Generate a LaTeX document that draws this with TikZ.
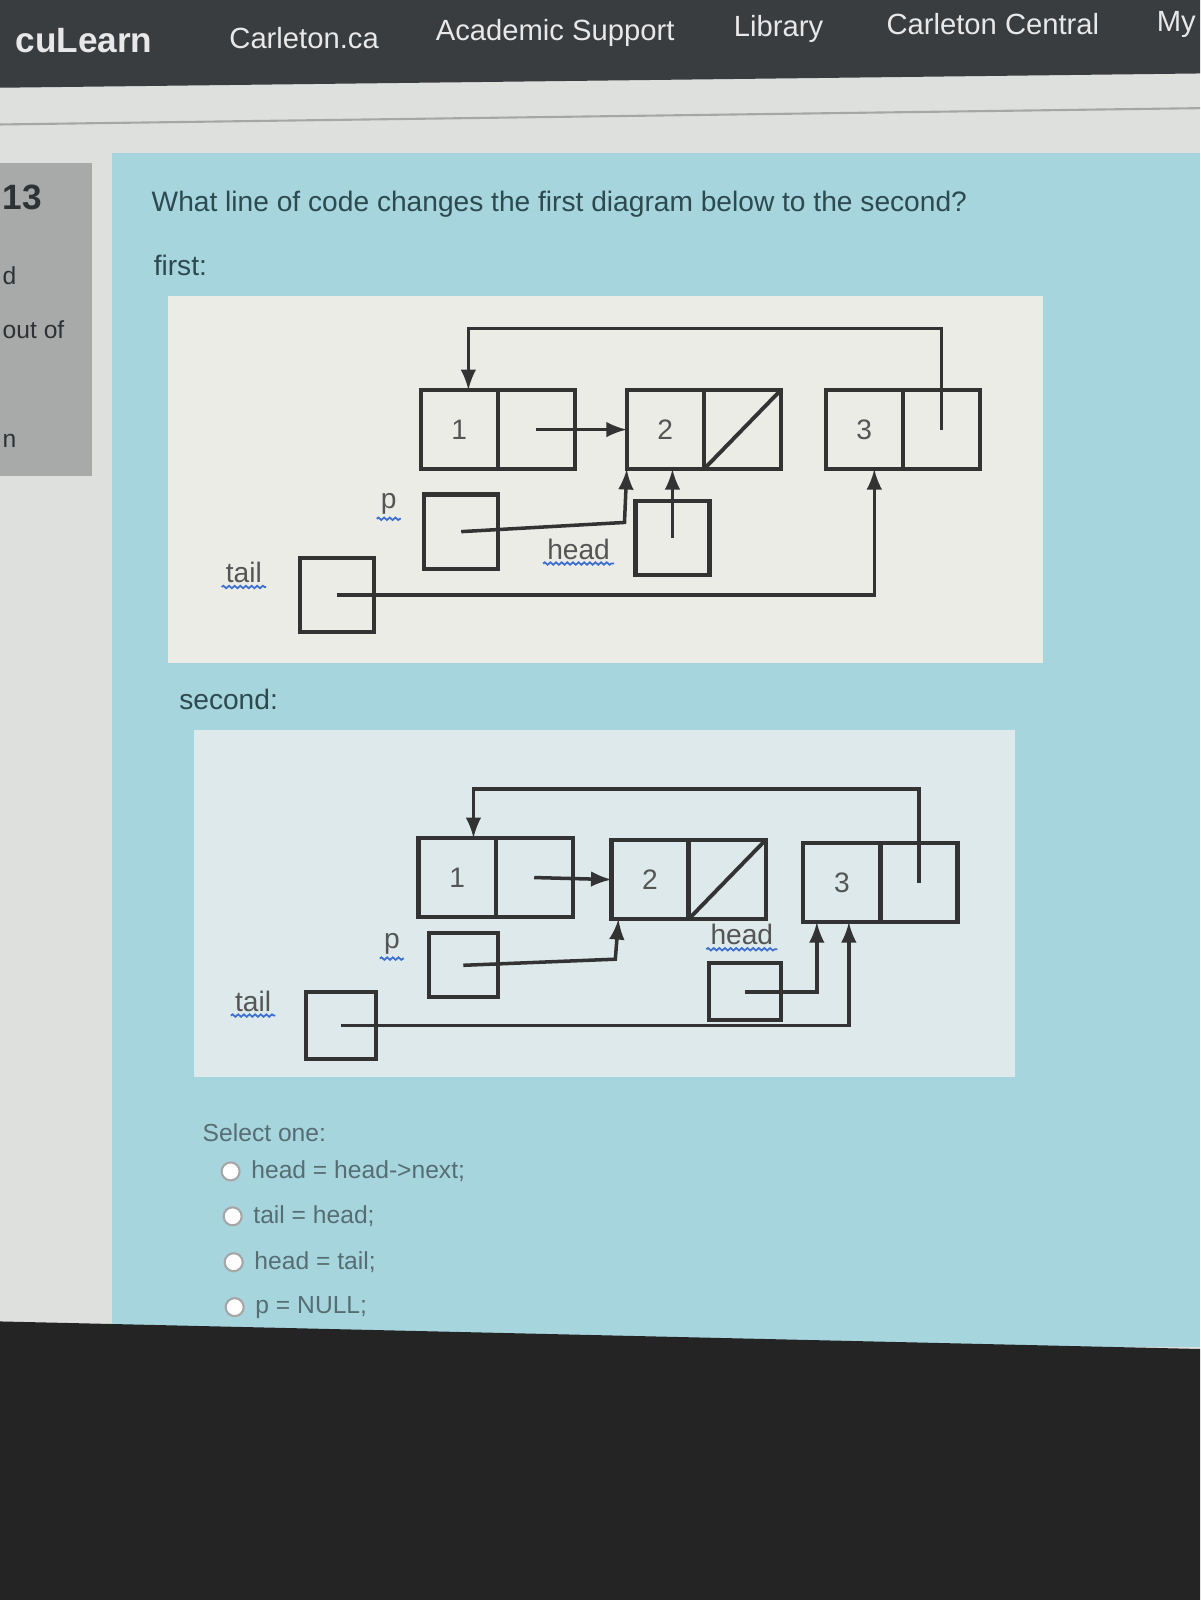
\documentclass[tikz,border=0pt]{standalone}
\usepackage{fontspec}
\setmainfont{Liberation Sans}
\usepackage{tikz}
\usetikzlibrary{arrows,shapes,positioning,decorations.pathmorphing}
\usepackage{xcolor}
\definecolor{navbar}{RGB}{58,61,64}
\definecolor{navtext}{RGB}{232,232,232}
\definecolor{pagebg}{RGB}{222,224,222}
\definecolor{sidegray}{RGB}{168,170,169}
\definecolor{sidetext}{RGB}{46,50,52}
\definecolor{quizblue}{RGB}{166,213,222}
\definecolor{qtext}{RGB}{44,74,80}
\definecolor{diagbg}{RGB}{236,236,231}
\definecolor{diagbgtwo}{RGB}{221,233,234}
\definecolor{lineclr}{RGB}{51,51,51}
\definecolor{labelclr}{RGB}{85,85,85}
\definecolor{squigblue}{RGB}{60,111,208}
\definecolor{bezel}{RGB}{36,36,36}
\tikzstyle{arrow} = [line width=1pt,->,>=latex,color=lineclr]
\tikzstyle{cell} = [rectangle, draw=lineclr, line width=1.2pt, outer sep=0pt, minimum width=0.77cm, minimum height=0.79cm, inner sep=0pt, text=labelclr, font=\fontsize{8}{9}\selectfont]
\tikzstyle{ptrbox} = [rectangle, draw=lineclr, line width=1.2pt, minimum size=0.74cm, inner sep=0pt]
\tikzstyle{varname} = [text=labelclr, inner sep=1pt, font=\fontsize{8}{9}\selectfont]
\tikzstyle{squiggle} = [draw=squigblue, line width=0.5pt, decorate, decoration={snake, amplitude=0.35pt, segment length=1.6pt}]
\tikzstyle{navitem} = [text=navtext, font=\fontsize{8.3}{10}\selectfont]
\tikzstyle{sideitem} = [text=sidetext, anchor=west, inner sep=0pt, font=\fontsize{7}{9}\selectfont]
\tikzstyle{qline} = [text=qtext, anchor=west, inner sep=0pt, font=\fontsize{8}{10}\selectfont]
\tikzstyle{option} = [text=qtext!80, anchor=west, inner sep=0pt, font=\fontsize{7}{9}\selectfont]
\tikzstyle{radio} = [circle, draw=gray!70, fill=white, line width=0.6pt, minimum size=0.18cm, inner sep=0pt]

\begin{document}
\begin{tikzpicture}[x=0.0102cm, y=-0.0102cm]
\useasboundingbox (0,0) rectangle (1176,1568);
% Screen
\fill[pagebg] (0,0) rectangle (1176,1568);
\fill[navbar] (0,0) -- (1176,0) -- (1176,72) -- (0,86) -- cycle;
\draw[gray!70, line width=0.6pt] (0,122) -- (1176,106);
\fill[sidegray] (0,160) rectangle (90,466);
\fill[quizblue] (110,150) rectangle (1176,1320);
\fill[diagbg] (165,290) rectangle (1022,650);
\fill[diagbgtwo] (190,715) rectangle (995,1055);
\fill[bezel] (0,1295) -- (1176,1322) -- (1176,1568) -- (0,1568) -- cycle;

% Menu
\node[navitem, anchor=west, font=\bfseries\fontsize{10}{12}\selectfont] (brand) at (3,40) {cuLearn};
\node[navitem] (carleton) at (298,37) {Carleton.ca};
\node[navitem] (support) at (544,32) {Academic Support};
\node[navitem] (library) at (763,28) {Library};
\node[navitem] (central) at (973,24) {Carleton Central};
\node[navitem, anchor=east, inner sep=1pt] (mine) at (1176,24) {My};

% Question info
\node[sideitem, font=\bfseries\fontsize{10}{12}\selectfont] (qnum) at (2,193) {13};
\node[sideitem] (status) at (2,270) {d};
\node[sideitem] (mark) at (2,323) {out of};
\node[sideitem] (flag) at (2,432) {n};

% Question text
\node[qline] (question) at (148,200) {What line of code changes the first diagram below to the second?};
\node[qline] (firstlbl) at (150,260) {first:};
\node[qline] (secondlbl) at (175,685) {second:};

% First diagram - nodes
\node (a1) [cell] at (450,421) {1};
\node (a1n) [cell, right=0pt of a1] {};
\node (a2) [cell] at (652,421) {2};
\node (a2n) [cell, right=0pt of a2] {};
\node (a3) [cell] at (847,421) {3};
\node (a3n) [cell, right=0pt of a3] {};
\node (pa) [ptrbox] at (452,521) {};
\node (heada) [ptrbox] at (659,527) {};
\node (taila) [ptrbox] at (330,583) {};
\node (pla) [varname] at (381,494) {p};
\node (hla) [varname] at (567,538) {head};
\node (tla) [varname] at (239,561) {tail};
\coordinate (loopa) at (459,322);
\coordinate (benda) at (612,512);

% First diagram - arrows
\draw[line width=1.1pt, color=lineclr] ([shift={(0.03,0.03)}]a2n.south west) -- ([shift={(-0.03,-0.03)}]a2n.north east);
\draw[arrow] (a1n.center) -- (a2.west);
\draw[arrow] (a3n.center) |- (loopa) -- (loopa |- a1.north);
\draw[arrow] (pa.center) -- (benda) -- (a2.south west);
\draw[arrow] (heada.center) -- (heada.center |- a2.south);
\draw[arrow] (taila.center) -| ([xshift=0.1cm]a3.south);

% Second diagram - nodes
\begin{scope}[every node/.append style={minimum width=0.71cm, minimum height=0.67cm}]
\node (b1) [cell] at (448,860) {1};
\node (b1n) [cell, right=0pt of b1] {};
\node (b2) [cell] at (637,862) {2};
\node (b2n) [cell, right=0pt of b2] {};
\node (b3) [cell] at (825,865) {3};
\node (b3n) [cell, right=0pt of b3] {};
\end{scope}
\node (pb) [ptrbox, minimum width=0.69cm, minimum height=0.64cm] at (454,946) {};
\node (headb) [ptrbox, minimum width=0.72cm, minimum height=0.57cm] at (730,972) {};
\node (tailb) [ptrbox, minimum width=0.70cm, minimum height=0.67cm] at (334,1005) {};
\node (plb) [varname] at (384,925) {p};
\node (hlb) [varname] at (727,916) {head};
\node (tlb) [varname] at (248,981) {tail};
\coordinate (loopb) at (464,773);
\coordinate (bendb) at (603,940);

% Second diagram - arrows
\draw[line width=1.1pt, color=lineclr] ([shift={(0.03,0.03)}]b2n.south west) -- ([shift={(-0.03,-0.03)}]b2n.north east);
\draw[arrow] (b1n.center) -- (b2.west);
\draw[arrow] (b3n.center) |- (loopb) -- (loopb |- b1.north);
\draw[arrow] (pb.center) -- (bendb) -- ([xshift=0.07cm]b2.south west);
\draw[arrow] (headb.center) -| ([xshift=-0.25cm]b3.south);
\draw[arrow] (tailb.center) -| ([xshift=0.07cm]b3.south);

% Spelling marks
\foreach \lbl in {pla,hla,tla,plb,hlb,tlb}
  \draw[squiggle] (\lbl.south west) -- (\lbl.south east);

% Answers
\node[option] (select) at (198,1110) {Select one:};
\node (ra) [radio] at (226,1148) {};
\node (rb) [radio] at (228,1192) {};
\node (rc) [radio] at (229,1237) {};
\node (rd) [radio] at (230,1281) {};
\node[option, right=0.1cm of ra] (oa) {head = head->next;};
\node[option, right=0.1cm of rb] (ob) {tail = head;};
\node[option, right=0.1cm of rc] (oc) {head = tail;};
\node[option, right=0.1cm of rd] (od) {p = NULL;};
\end{tikzpicture}
\end{document}
